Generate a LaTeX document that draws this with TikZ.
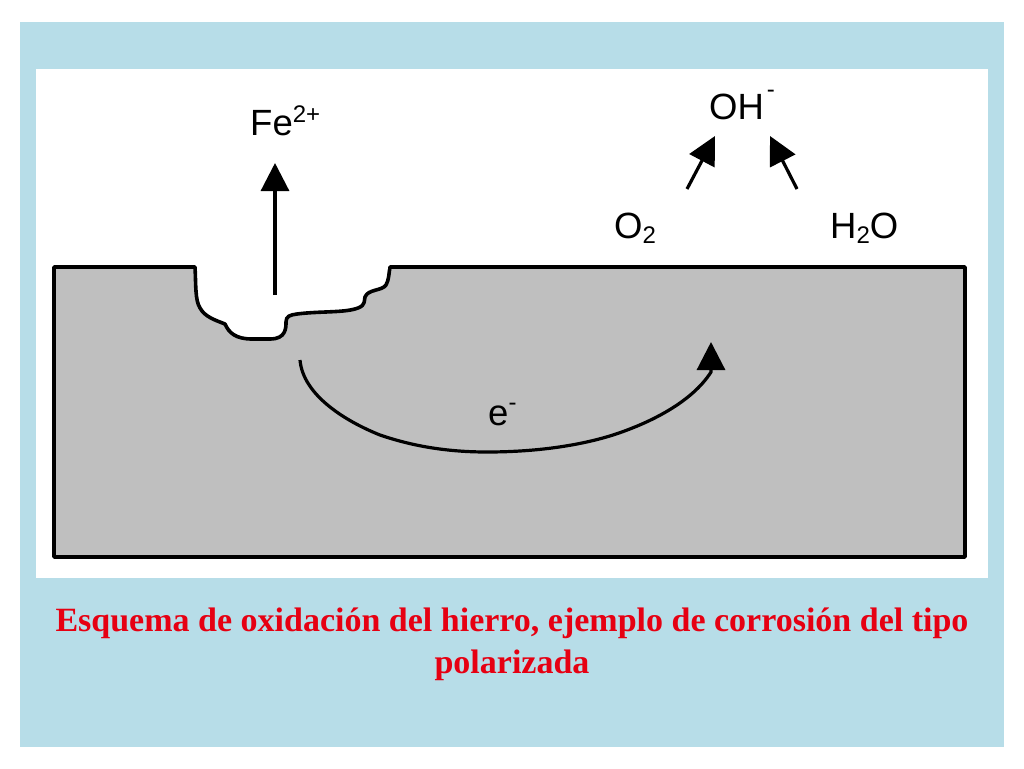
\documentclass[tikz,border=0pt]{standalone}
\usepackage{fontspec}
\usepackage{tikz}
\usepackage{xcolor}
\usetikzlibrary{arrows.meta}
\setmainfont{Liberation Sans}
\newfontfamily\captionfont{Liberation Serif}
\definecolor{panelblue}{HTML}{B7DDE8}
\definecolor{metalgray}{HTML}{BFBFBF}
\definecolor{captionred}{HTML}{E60012}
\newcommand{\upidx}[2]{\raisebox{#1}{\fontsize{24}{24}\selectfont #2}}
\newcommand{\downidx}[1]{\raisebox{-5pt}{\fontsize{24}{24}\selectfont #1}}
\tikzset{
    chem-label/.style = {anchor=base west, inner sep=0pt, text=black, font=\fontsize{36.5}{36.5}\selectfont},
    caption-label/.style = {inner sep=0pt, align=center, text=captionred, font=\captionfont\bfseries\fontsize{34}{42}\selectfont},
    reaction-arrow/.style = {line width=3.2pt, -{Triangle[length=28pt, width=28pt]}},
}

\begin{document}
\begin{tikzpicture}[x=1pt, y=-1pt]
\useasboundingbox (0,0) rectangle (1024,768);
\fill[panelblue] (20,22) rectangle (1004,747);
\fill[white] (36,69) rectangle (988,578);
% metal block with the pit
\draw[line width=3.6pt, fill=metalgray, line join=round] (54,267) -- (195,267)
    .. controls (196,285) and (195,300) .. (200,308)
    .. controls (205,317) and (215,320) .. (225,324)
    .. controls (229,333) and (236,339) .. (252,339)
    -- (270,339)
    .. controls (286,339) and (286,328) .. (286,322)
    .. controls (286,316) and (290,315) .. (297,314)
    .. controls (320,311) and (345,313) .. (358,308)
    .. controls (366,305) and (364,300) .. (365,297)
    .. controls (368,289) and (382,291) .. (386,285)
    .. controls (389,280) and (389,272) .. (390,267)
    -- (965,267) -- (965,557) -- (54,557) -- cycle;
\fill[white] (197,265) -- (388,265) -- (388,269) -- (197,269) -- cycle;
% labels
\node[chem-label] (fe) at (250,135) {Fe\upidx{13pt}{2+}};
\node[chem-label] (oh) at (709,119) {OH\hspace{3pt}\upidx{22pt}{-}};
\node[chem-label] (otwo) at (614,238) {O\downidx{2}};
\node[chem-label] (water) at (830,238) {H\downidx{2}O};
\node[chem-label] (electron) at (488,425) {e\upidx{15pt}{-}};
\node[caption-label] (caption) at (512,644.5) {Esquema de oxidación del hierro, ejemplo de corrosión del tipo\\polarizada};
% arrows
\coordinate (fe-start) at (275,295);
\coordinate (fe-end) at (275,163);
\coordinate (otwo-start) at (687,189);
\coordinate (otwo-end) at (715,136);
\coordinate (water-start) at (797,189);
\coordinate (water-end) at (770,136);
\coordinate (e-start) at (300,360);
\coordinate (e-left) at (380,435);
\coordinate (e-mid) at (487,452);
\coordinate (e-right) at (613,435);
\coordinate (e-neck) at (711,372);
\coordinate (e-end) at (711,342);
\draw[reaction-arrow] (fe-start) -- (fe-end);
\draw[reaction-arrow] (otwo-start) -- (otwo-end);
\draw[reaction-arrow] (water-start) -- (water-end);
\draw[reaction-arrow] (e-start) .. controls (303,395) and (345,421) .. (e-left)
    .. controls (415,447) and (450,452) .. (e-mid)
    .. controls (530,452) and (575,447) .. (e-right)
    .. controls (650,423) and (692,402) .. (e-neck) -- (e-end);
\end{tikzpicture}
\end{document}
